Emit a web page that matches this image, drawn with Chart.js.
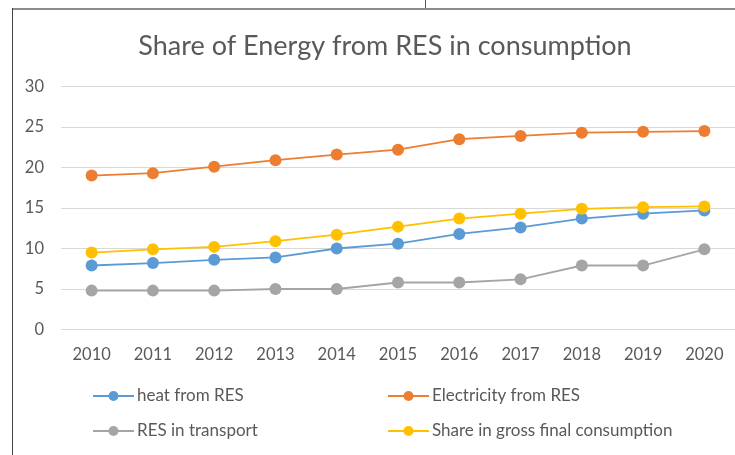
<!DOCTYPE html>
<html>
<head>
<meta charset="utf-8">
<script src="https://cdn.jsdelivr.net/npm/chart.js@4.4.0/dist/chart.umd.min.js"></script>
<style>
html,body{margin:0;padding:0;background:#fff;}
#wrap{position:relative;width:735px;height:455px;overflow:hidden;}
canvas{display:block;}
#frameTop{position:absolute;left:12px;top:8px;width:723px;height:2px;background:#8c8c8c;}
#frameLeft{position:absolute;left:12px;top:8px;width:1px;height:447px;background:#444;}
#topTick{position:absolute;left:425px;top:0;width:1px;height:8px;background:#3a55c8;}
</style>
</head>
<body>
<div id="wrap">
<canvas id="c" width="735" height="455"></canvas>
<div id="frameTop"></div><div id="frameLeft"></div><div id="topTick"></div>
</div>
<script>
const years = ['2010','2011','2012','2013','2014','2015','2016','2017','2018','2019','2020'];
const heatFromRES = [7.9, 8.2, 8.6, 8.9, 10.0, 10.6, 11.8, 12.6, 13.7, 14.3, 14.7];
const electricityFromRES = [19.0, 19.3, 20.1, 20.9, 21.6, 22.2, 23.5, 23.9, 24.3, 24.4, 24.5];
const resInTransport = [4.8, 4.8, 4.8, 5.0, 5.0, 5.8, 5.8, 6.2, 7.9, 7.9, 9.9];
const shareGrossFinal = [9.5, 9.9, 10.2, 10.9, 11.7, 12.7, 13.7, 14.3, 14.9, 15.1, 15.2];
const seriesNames = ['heat from RES', 'Electricity from RES', 'RES in transport', 'Share in gross final consumption'];
const seriesColors = ['#5B9BD5', '#ED7D31', '#A5A5A5', '#FFC000'];
const titleText = 'Share of Energy from RES in consumption';

const FONT = 'Lato, "Open Sans", sans-serif';
const TEXT = '#5d5858';

function ds(i, data, order){
  return {
    label: seriesNames[i], data: data, order: order,
    borderColor: seriesColors[i], backgroundColor: seriesColors[i],
    pointBackgroundColor: seriesColors[i], pointBorderColor: seriesColors[i],
    borderWidth: 1.8, pointRadius: 6, pointBorderWidth: 0, tension: 0, fill: false
  };
}

const titlePos = {
  id: 'titlePos',
  afterLayout(chart){
    const t = chart.titleBlock;
    if (t) { t.left = 35; t.right = 735; }
  }
};

const gridLegend = {
  id: 'gridLegend',
  afterDraw(chart){
    const ctx = chart.ctx;
    const colX = [93, 388];
    const rowY = [396, 431];
    ctx.save();
    chart.data.datasets.forEach((d, i) => {
      const x0 = colX[i % 2], y = rowY[Math.floor(i / 2)];
      ctx.strokeStyle = d.borderColor;
      ctx.lineWidth = 1.8;
      ctx.beginPath(); ctx.moveTo(x0, y); ctx.lineTo(x0 + 41, y); ctx.stroke();
      ctx.fillStyle = d.borderColor;
      ctx.beginPath(); ctx.arc(x0 + 20.5, y, 5, 0, Math.PI * 2); ctx.fill();
      ctx.fillStyle = TEXT;
      ctx.font = '17px ' + FONT;
      ctx.textBaseline = 'middle';
      ctx.textAlign = 'left';
      ctx.fillText(d.label, x0 + 44, y);
    });
    ctx.restore();
  }
};

new Chart(document.getElementById('c'), {
  type: 'line',
  data: {
    labels: years,
    datasets: [
      ds(0, heatFromRES, 3),
      ds(1, electricityFromRES, 2),
      ds(2, resInTransport, 1),
      ds(3, shareGrossFinal, 0)
    ]
  },
  options: {
    responsive: false,
    animation: false,
    devicePixelRatio: 1,
    layout: { autoPadding: false, padding: 0 },
    plugins: {
      legend: { display: false },
      tooltip: { enabled: false },
      title: {
        display: true, text: titleText, color: TEXT,
        font: { family: FONT, size: 27, weight: 'normal', lineHeight: 1.2 },
        padding: { top: 29.8, bottom: 24.3 }
      }
    },
    scales: {
      x: {
        offset: true,
        grid: { display: false, drawTicks: false },
        border: { display: true, color: '#d9d9d9', width: 1 },
        ticks: { color: TEXT, font: { family: FONT, size: 16.5 }, padding: 15, maxRotation: 0, autoSkip: false },
        afterFit(s){ s.height = 125.5; s.paddingLeft = 0; s.paddingRight = 0; }
      },
      y: {
        min: 0, max: 30,
        grid: { color: '#d9d9d9', lineWidth: 1, drawTicks: false },
        border: { display: false },
        ticks: { stepSize: 5, color: TEXT, font: { family: FONT, size: 16.5 }, padding: 17 },
        afterFit(s){ s.width = 61; }
      }
    }
  },
  plugins: [titlePos, gridLegend]
});
</script>
</body>
</html>
